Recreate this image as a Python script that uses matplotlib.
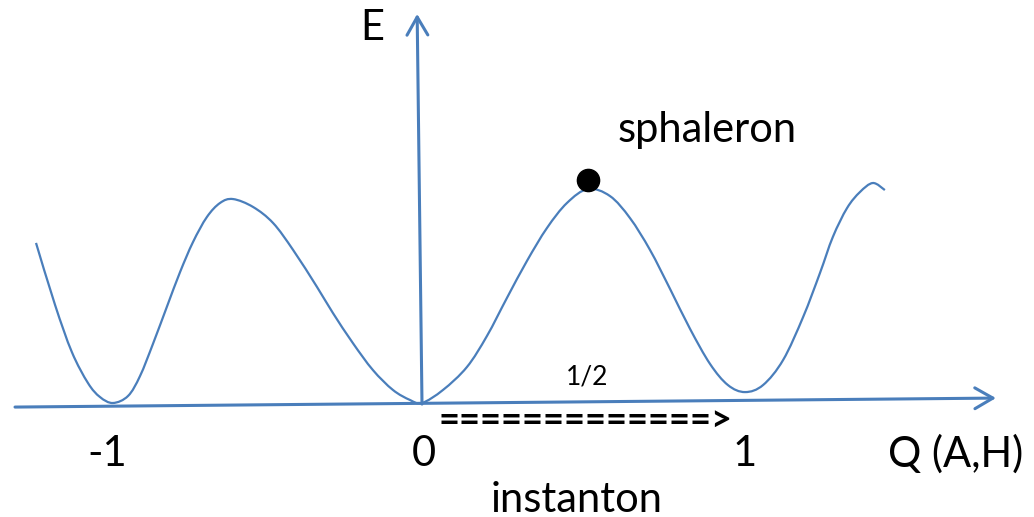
import matplotlib
matplotlib.use("Agg")
import matplotlib.pyplot as plt
import numpy as np
from matplotlib.path import Path
from matplotlib.patches import PathPatch, FancyArrowPatch

plt.rcParams['font.family'] = ['Lato', 'DejaVu Sans']

# Energy curve E(Q) (Q in units of the winding number, E relative to the sphaleron barrier)
curve_q = [-1.195, -1.136, -1.084, -1.034, -0.997, -0.957,
           -0.910, -0.873, -0.833, -0.789, -0.749, -0.709, -0.666, -0.625, -0.585,
           -0.523, -0.461, -0.399, -0.325, -0.276, -0.214, -0.152, -0.090, -0.037, 0.000,
           0.065, 0.139, 0.201, 0.263, 0.325, 0.387, 0.449, 0.514,
           0.582, 0.644, 0.706, 0.768, 0.830, 0.892, 0.947, 1.000,
           1.056, 1.118, 1.180, 1.232, 1.272, 1.316, 1.356, 1.396, 1.433]
curve_e = [0.748, 0.458, 0.238, 0.093, 0.028, 0.000,
           0.033, 0.126, 0.276, 0.453, 0.612, 0.752, 0.869, 0.935, 0.953,
           0.916, 0.841, 0.715, 0.542, 0.421, 0.280, 0.154, 0.061, 0.014, 0.000,
           0.061, 0.168, 0.313, 0.491, 0.664, 0.818, 0.935, 1.000,
           0.967, 0.864, 0.715, 0.533, 0.346, 0.182, 0.084, 0.051,
           0.084, 0.201, 0.402, 0.607, 0.776, 0.911, 0.986, 1.028, 0.995]

sphaleron_q, sphaleron_e = [0.515], [1.042]

# hand-drawn axes (start point, arrow tip)
x_axis = [(-1.260, -0.019), (1.777, 0.023)]
y_axis = [(0.000, -0.005), (-0.015, 1.818)]

tick_labels = ["-1", "0", "1"]
tick_q = [-0.975, 0.005, 0.998]

blue = '#4a7ebb'

fig = plt.figure(figsize=(10.34, 5.17), dpi=100)
ax = fig.add_axes([0, 0, 1, 1])
ax.set_xlim(-422 / 323, (1034 - 422) / 323)
ax.set_ylim((403 - 517) / 214, 403 / 214)
ax.axis('off')

# smooth curve through the points (Catmull-Rom as cubic Bezier segments)
pts = np.column_stack([curve_q, curve_e])
verts = [tuple(pts[0])]
codes = [Path.MOVETO]
n = len(pts)
for i in range(n - 1):
    p0 = pts[max(i - 1, 0)]
    p1 = pts[i]
    p2 = pts[i + 1]
    p3 = pts[min(i + 2, n - 1)]
    c1 = p1 + (p2 - p0) / 6.0
    c2 = p2 - (p3 - p1) / 6.0
    verts += [tuple(c1), tuple(c2), tuple(p2)]
    codes += [Path.CURVE4] * 3
ax.add_patch(PathPatch(Path(verts, codes), facecolor='none', edgecolor=blue, lw=1.6,
                       capstyle='butt', joinstyle='round'))

for (a, b) in (x_axis, y_axis):
    ax.add_patch(FancyArrowPatch(a, b, arrowstyle='->,head_length=13,head_width=7.5',
                                 mutation_scale=1, color=blue, lw=2.2,
                                 shrinkA=0, shrinkB=0))

ax.plot(sphaleron_q, sphaleron_e, 'o', color='black', markersize=16, zorder=5)

fs = 30
ax.text(372.5 / 323 - 422 / 323, (403 - 40) / 214, "E", fontsize=fs, ha='center', va='baseline')
ax.text((707 - 422) / 323, (403 - 142) / 214, "sphaleron", fontsize=fs, ha='center', va='baseline')
ax.text((587 - 422) / 323, (403 - 385) / 214, "1/2", fontsize=19, ha='center', va='baseline')
ax.text((585 - 422) / 323, (403 - 420) / 214, "=" * 13 + ">", fontsize=26, fontweight='bold',
        ha='center', va='center')
for lab, q in zip(tick_labels, tick_q):
    ax.text(q, (403 - 466) / 214, lab, fontsize=fs, ha='center', va='baseline')
ax.text((956 - 422) / 323, (403 - 467) / 214, "Q (A,H)", fontsize=fs, ha='center', va='baseline')
ax.text((577 - 422) / 323, (403 - 512) / 214, "instanton", fontsize=fs, ha='center', va='baseline')

fig.savefig('out.png', dpi=100, facecolor='white')
